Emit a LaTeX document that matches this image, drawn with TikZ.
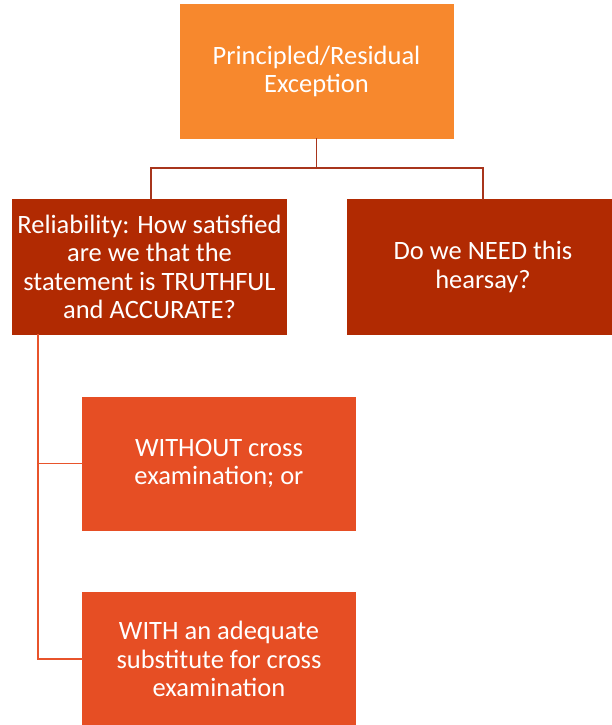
\documentclass[tikz,border=0pt]{standalone}
\usepackage{fontspec}
\setmainfont{Carlito}
\usepackage{tikz}
\usetikzlibrary{positioning}
\definecolor{topfill}{HTML}{F7882D}
\definecolor{darkfill}{HTML}{B12A02}
\definecolor{subfill}{HTML}{E64E24}
\definecolor{darkline}{HTML}{A8351C}
\definecolor{subline}{HTML}{E8532B}
\begin{document}
\begin{tikzpicture}[x=1pt,y=-1pt,line cap=rect,
  box/.style={rectangle,text=white,align=center,inner sep=0pt,
    font=\fontsize{26.5}{28.5}\selectfont,minimum width=274pt,minimum height=134pt},
  topbox/.style={box,fill=topfill},
  mainbox/.style={box,fill=darkfill,minimum height=136pt},
  subbox/.style={box,fill=subfill},
  link/.style={line width=1.6pt,darkline},
  sublink/.style={line width=1.6pt,subline}]
\useasboundingbox (0,0) rectangle (611,725);
\node [topbox] (exception) at (316.5,71.5) {Principled/Residual\\Exception};
\node [mainbox,minimum width=275pt] (reliability) at (149.5,267) {Reliability: How satisfied\\are we that the\\statement is TRUTHFUL\\and ACCURATE?};
\node [mainbox,minimum width=273pt] (necessity) at (483,267) {Do we NEED this\\hearsay?};
\node [subbox] (without) at (219,463.5) {WITHOUT cross\\examination; or};
\node [subbox] (with) at (219,659) {WITH an adequate\\substitute for cross\\examination};
% tree links
\coordinate (fork) at (316.5,168);
\draw [link] (exception.south) -- (fork);
\draw [link] (fork) -| ([xshift=1.5pt]reliability.north);
\draw [link] (fork) -| (necessity.north);
\coordinate (trunk) at ([xshift=26pt]reliability.south west);
\draw [sublink] (trunk) |- (without.west);
\draw [sublink] (trunk) |- (with.west);
\end{tikzpicture}
\end{document}
